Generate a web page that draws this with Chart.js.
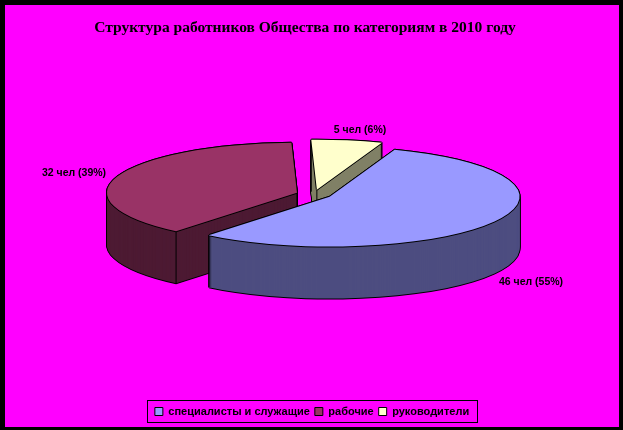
<!DOCTYPE html>
<html lang="ru">
  <head>
    <meta charset="UTF-8" />
    <script src="https://cdn.jsdelivr.net/npm/chart.js@4.4.1/dist/chart.umd.min.js"></script>
    <style>
      html, body { margin: 0; height: 100%; background: #000; overflow: hidden; }
      #frame { position: absolute; left: 5px; top: 5px; width: 614px; height: 422px; background: #ff00ff; }
    </style>
  </head>
  <body>
    <div id="frame"><canvas id="myChart"></canvas></div>

    <script>
      // Data
      const categories = ["специалисты и служащие", "рабочие", "руководители"];
      const people = [46, 32, 5];
      const topColors = ["#9999ff", "#993366", "#ffffcc"];
      const sideColors = ["#4d4d80", "#4d1a33", "#808066"];
      const chartTitle = "Структура работников Общества по категориям в 2010 году";

      // fake 3D look
      const squash = 0.263;
      const depth = 52;
      const explode = 18;
      const shiftX = 2;
      const shiftY = -30;
      // where the value labels sit, in canvas pixels (centre of text)
      const labelSpots = [[526, 277], [69, 168], [355, 125]];
      const drawOrder = [2, 1, 0]; // back to front

      function faceOf(arc, color) {
        return new Chart.ArcElement({
          x: arc.x,
          y: arc.y,
          startAngle: arc.startAngle,
          endAngle: arc.endAngle,
          circumference: arc.circumference,
          innerRadius: 0,
          outerRadius: arc.outerRadius,
          options: { backgroundColor: color, borderWidth: 0, offset: 0, spacing: 0, borderRadius: 0, borderAlign: "center", circular: true },
        });
      }

      // map a point of the flat pie to its place on the canvas
      function place(arc, px, py) {
        const mid = (arc.startAngle + arc.endAngle) / 2;
        const fx = px + Math.cos(mid) * explode;
        const fy = py + Math.sin(mid) * explode;
        return [arc.x + shiftX + fx, arc.y + shiftY + fy * squash];
      }

      function paintFace(ctx, arc, color, dx, dy) {
        const mid = (arc.startAngle + arc.endAngle) / 2;
        ctx.save();
        ctx.translate(arc.x + shiftX + dx, arc.y + shiftY + dy);
        ctx.scale(1, squash);
        ctx.translate(Math.cos(mid) * explode, Math.sin(mid) * explode);
        ctx.translate(-arc.x, -arc.y);
        faceOf(arc, color).draw(ctx);
        ctx.restore();
      }

      const nudges = [[-1, 0], [1, 0], [0, -1], [0, 1]];

      const pie3d = {
        id: "pie3d",
        beforeDatasetsDraw(chart) {
          const ctx = chart.ctx;
          const arcs = chart.getDatasetMeta(0).data;
          drawOrder.forEach((i) => {
            const arc = arcs[i];
            // black silhouette of the whole slab
            for (let d = depth; d >= 0; d--) {
              nudges.forEach((n) => paintFace(ctx, arc, "#000", n[0], d + n[1]));
            }
            for (let d = depth; d > 0; d--) {
              paintFace(ctx, arc, sideColors[i], 0, d);
            }
            // vertical edges at the slice corners, the apex of a big slice stays hidden
            const r = arc.outerRadius;
            const corners = [
              [Math.cos(arc.startAngle) * r, Math.sin(arc.startAngle) * r],
              [Math.cos(arc.endAngle) * r, Math.sin(arc.endAngle) * r],
            ];
            if (arc.circumference < Math.PI) corners.push([0, 0]);
            ctx.save();
            ctx.strokeStyle = "#000";
            ctx.lineWidth = 1;
            corners.forEach((c) => {
              const p = place(arc, c[0], c[1]);
              ctx.beginPath();
              ctx.moveTo(p[0], p[1]);
              ctx.lineTo(p[0], p[1] + depth);
              ctx.stroke();
            });
            ctx.restore();
            // top face with its outline
            nudges.forEach((n) => paintFace(ctx, arc, "#000", n[0], n[1]));
            paintFace(ctx, arc, topColors[i], 0, 0);
          });
          return false;
        },
        afterDraw(chart) {
          const ctx = chart.ctx;
          const total = people.reduce((a, b) => a + b, 0);
          ctx.save();
          ctx.fillStyle = "#000";
          ctx.font = "bold 10.5px 'Liberation Sans'";
          ctx.textAlign = "center";
          ctx.textBaseline = "middle";
          people.forEach((v, i) => {
            const pct = Math.round((v / total) * 100);
            ctx.fillText(v + " чел (" + pct + "%)", labelSpots[i][0], labelSpots[i][1]);
          });
          // legend frame
          ctx.strokeStyle = "#000";
          ctx.lineWidth = 1;
          ctx.strokeRect(142.5, 395.5, 330, 22);
          ctx.restore();
        },
        afterLayout(chart) {
          // title sits a little left of the middle
          chart.titleBlock.left -= 7;
          chart.titleBlock.right -= 7;
        },
      };

      const ctx = document.getElementById("myChart").getContext("2d");
      const myChart = new Chart(ctx, {
        type: "pie",
        data: {
          labels: categories,
          datasets: [
            {
              data: people,
              backgroundColor: topColors,
              borderColor: "#000",
              borderWidth: 1,
            },
          ],
        },
        options: {
          responsive: true,
          maintainAspectRatio: false,
          animation: false,
          events: [],
          rotation: 20,
          radius: 190,
          plugins: {
            tooltip: { enabled: false },
            title: {
              display: true,
              text: chartTitle,
              color: "#000",
              font: { family: "'Liberation Serif'", weight: "bold", size: 15.5 },
              padding: { top: 14, bottom: 10 },
            },
            legend: {
              position: "bottom",
              labels: {
                color: "#000",
                boxWidth: 8,
                boxHeight: 8,
                padding: 5,
                font: { family: "'Liberation Sans'", weight: "bold", size: 11 },
              },
            },
          },
        },
        plugins: [pie3d],
      });
    </script>
  </body>
</html>
